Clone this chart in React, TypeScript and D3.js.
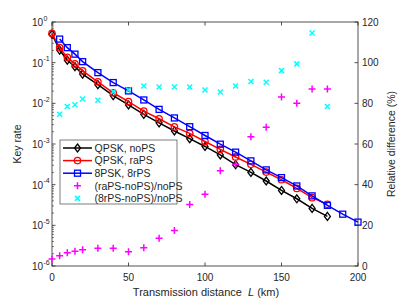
import React from "react";
import * as d3 from "d3";

// distances (km)
const distQ = [0, 5, 10, 15, 20, 30, 40, 50, 60, 70, 80, 90, 100, 110, 120, 130, 140, 150, 160, 170, 180];
const dist8 = [5, 10, 15, 20, 30, 40, 50, 60, 70, 80, 90, 100, 110, 120, 130, 140, 150, 160, 170, 180, 190, 200];
const distCyan = distQ.slice(1);

// key rates
const qpskNoPS = [0.5, 0.204, 0.115, 0.0794, 0.0525, 0.0288, 0.0155, 0.00912, 0.00537, 0.00331, 0.00209, 0.00135, 8.7e-4, 5.4e-4, 3.1e-4, 2.0e-4, 1.23e-4, 7.2e-5, 4.5e-5, 2.6e-5, 1.66e-5];
const qpskRaPS = [0.525, 0.234, 0.135, 0.0933, 0.0631, 0.0339, 0.0182, 0.011, 0.00646, 0.00417, 0.00263, 0.00182, 0.00115, 7.4e-4, 4.8e-4, 3.16e-4, 2.04e-4, 1.32e-4, 8.1e-5, 4.8e-5, 3.3e-5];
const psk8 = [0.38, 0.234, 0.162, 0.106, 0.0569, 0.0324, 0.0202, 0.0121, 0.0071, 0.00437, 0.00266, 0.00162, 9.9e-4, 6.3e-4, 3.85e-4, 2.31e-4, 1.49e-4, 9.3e-5, 5.3e-5, 3.1e-5, 1.88e-5, 1.2e-5];

// relative differences (%)
const relRaPS = [3.5, 5.1, 6.5, 7.2, 8.0, 8.7, 8.7, 7.0, 9.0, 13.6, 17.5, 30.2, 35.3, 46.9, 50.0, 63.6, 68.2, 83.1, 80.0, 87.1, 87.1];
const rel8rPS = [74.6, 78.4, 79.3, 82.1, 81.5, 85.7, 86.6, 88.5, 88.0, 88.0, 88.0, 86.6, 85.6, 88.5, 90.7, 90.4, 96.1, 99.4, 114.6, 78.4];

const xTicks = [0, 50, 100, 150, 200];
const yExps = [0, -1, -2, -3, -4, -5, -6];
const rTicks = [0, 20, 40, 60, 80, 100, 120];
const legendLabels = ["QPSK, noPS", "QPSK, raPS", "8PSK, 8rPS", "(raPS-noPS)/noPS", "(8rPS-noPS)/noPS"];

const L = 52, R = 358, T = 22, B = 266;
const axisColor = "#262626";
const font = "'Liberation Sans', Arial, sans-serif";

const x = d3.scaleLinear().domain([0, 200]).range([L, R]);
const y = d3.scaleLog().domain([1e-6, 1]).range([B, T]);
const yr = d3.scaleLinear().domain([0, 120]).range([B, T]);

function Marker({ kind, cx, cy, color }: { kind: string; cx: number; cy: number; color: string }) {
  if (kind === "diamond")
    return <path d={`M${cx},${cy - 4}L${cx + 3},${cy}L${cx},${cy + 4}L${cx - 3},${cy}Z`} fill="none" stroke={color} strokeWidth={1.3} />;
  if (kind === "circle") return <circle cx={cx} cy={cy} r={3.2} fill="none" stroke={color} strokeWidth={1.3} />;
  if (kind === "square") return <rect x={cx - 3} y={cy - 3} width={6} height={6} fill="none" stroke={color} strokeWidth={1.3} />;
  if (kind === "plus")
    return <path d={`M${cx - 3.5},${cy}H${cx + 3.5}M${cx},${cy - 3.5}V${cy + 3.5}`} stroke={color} strokeWidth={1.5} />;
  return <path d={`M${cx - 2.5},${cy - 2.5}L${cx + 2.5},${cy + 2.5}M${cx - 2.5},${cy + 2.5}L${cx + 2.5},${cy - 2.5}`} stroke={color} strokeWidth={1.5} />;
}

export default function App() {
  const line = d3.line<[number, number]>().x((d) => x(d[0])).y((d) => y(d[1]));
  const series = [
    { d: distQ, v: qpskNoPS, color: "#000000", kind: "diamond" },
    { d: distQ, v: qpskRaPS, color: "#ff0000", kind: "circle" },
    { d: dist8, v: psk8, color: "#0000ff", kind: "square" },
  ];
  const minor: number[] = [];
  for (let e = -6; e < 0; e++) for (let k = 2; k <= 9; k++) minor.push(k * Math.pow(10, e));

  const legY = (i: number) => 148 + i * 12.6;
  const legendKinds = [
    { color: "#000000", kind: "diamond", line: true },
    { color: "#ff0000", kind: "circle", line: true },
    { color: "#0000ff", kind: "square", line: true },
    { color: "#ff00ff", kind: "plus", line: false },
    { color: "#00ffff", kind: "cross", line: false },
  ];

  return (
    <svg width={399} height={299} style={{ position: "absolute", left: 0, top: 0, background: "#fff" }} fontFamily={font}>
      <rect x={0} y={0} width={399} height={299} fill="#fff" />
      {/* axes box */}
      <rect x={L} y={T} width={R - L} height={B - T} fill="none" stroke={axisColor} strokeWidth={0.8} />
      {/* x ticks */}
      {xTicks.map((t) => (
        <g key={t}>
          <line x1={x(t)} x2={x(t)} y1={B} y2={B - 3.5} stroke={axisColor} strokeWidth={0.8} />
          <line x1={x(t)} x2={x(t)} y1={T} y2={T + 3.5} stroke={axisColor} strokeWidth={0.8} />
          <text x={x(t)} y={281} textAnchor="middle" fontSize={10} fill={axisColor}>{t}</text>
        </g>
      ))}
      {/* left log ticks */}
      {yExps.map((e) => (
        <g key={e}>
          <line x1={L} x2={L + 3.5} y1={y(Math.pow(10, e))} y2={y(Math.pow(10, e))} stroke={axisColor} strokeWidth={0.8} />
          <text x={43} y={y(Math.pow(10, e)) + 4} textAnchor="end" fontSize={10} fill={axisColor}>
            10
          </text>
          <text x={43.5} y={y(Math.pow(10, e)) - 1.5} textAnchor="start" fontSize={7} fill={axisColor}>
            {e === 0 ? "0" : `-${-e}`}
          </text>
        </g>
      ))}
      {minor.map((m, i) => (
        <line key={i} x1={L} x2={L + 2} y1={y(m)} y2={y(m)} stroke={axisColor} strokeWidth={0.6} />
      ))}
      {/* right ticks */}
      {rTicks.map((t) => (
        <g key={t}>
          <line x1={R} x2={R - 3.5} y1={yr(t)} y2={yr(t)} stroke={axisColor} strokeWidth={0.8} />
          <text x={362} y={yr(t) + 3.5} fontSize={10} fill={axisColor}>{t}</text>
        </g>
      ))}
      {/* axis labels */}
      <text transform={`translate(21,${(T + B) / 2}) rotate(-90)`} textAnchor="middle" fontSize={10.5} fill={axisColor}>Key rate</text>
      <text transform={`translate(395,${(T + B) / 2}) rotate(-90)`} textAnchor="middle" fontSize={10.5} fill={axisColor}>Relative difference (%)</text>
      <text x={206} y={296} textAnchor="middle" fontSize={11} fill={axisColor} xmlSpace="preserve">
        Transmission distance  <tspan fontStyle="italic">L</tspan> (km)
      </text>
      {/* key rate curves */}
      {series.map((s, si) => {
        const pts = s.d.map((d, i) => [d, s.v[i]] as [number, number]);
        return (
          <g key={si}>
            <path d={line(pts) || ""} fill="none" stroke={s.color} strokeWidth={1.5} />
            {pts.map((p, i) => (
              <Marker key={i} kind={s.kind} cx={x(p[0])} cy={y(p[1])} color={s.color} />
            ))}
          </g>
        );
      })}
      {/* relative differences */}
      {distQ.map((d, i) => (
        <Marker key={"m" + i} kind="plus" cx={x(d)} cy={yr(relRaPS[i])} color="#ff00ff" />
      ))}
      {distCyan.map((d, i) => (
        <Marker key={"c" + i} kind="cross" cx={x(d)} cy={yr(rel8rPS[i])} color="#00ffff" />
      ))}
      {/* legend */}
      <rect x={60} y={140} width={117} height={64} fill="#fff" stroke={axisColor} strokeWidth={0.6} />
      {legendLabels.map((lab, i) => (
        <g key={lab}>
          {legendKinds[i].line && <line x1={63} x2={92} y1={legY(i)} y2={legY(i)} stroke={legendKinds[i].color} strokeWidth={1.5} />}
          <Marker kind={legendKinds[i].kind} cx={77.5} cy={legY(i)} color={legendKinds[i].color} />
          <text x={94.5} y={legY(i) + 3.8} fontSize={10.5} fill={axisColor}>{lab}</text>
        </g>
      ))}
    </svg>
  );
}
